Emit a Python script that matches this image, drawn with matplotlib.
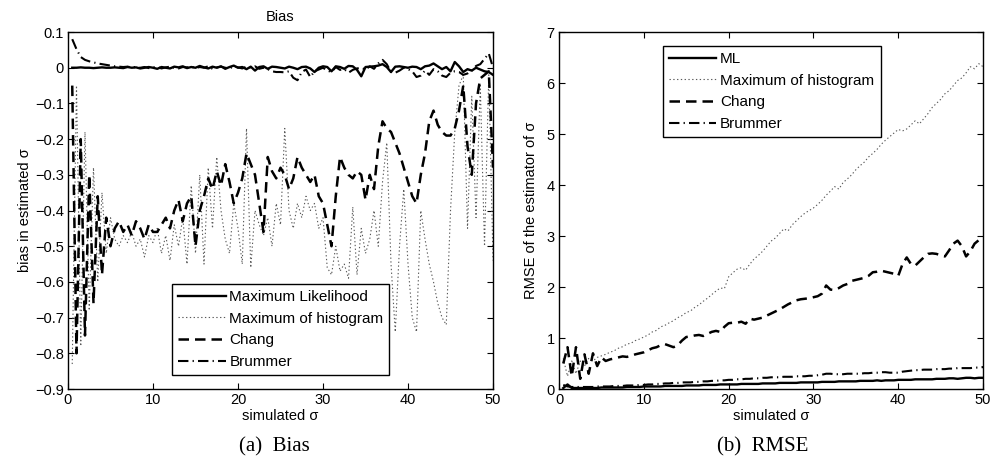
import matplotlib
matplotlib.use("Agg")
import matplotlib.pyplot as plt
import numpy as np

plt.rcParams["font.family"] = ["Liberation Sans", "DejaVu Sans"]

# simulated sigma grid (0.5 ... 50)
sigma = np.arange(1, 101) * 0.5

LABELS_BIAS = ["Maximum Likelihood", "Maximum of histogram", "Chang", "Brummer"]
LABELS_RMSE = ["ML", "Maximum of histogram", "Chang", "Brummer"]

bias_ml = [
    0.000, 0.000, 0.001, 0.000, 0.000, -0.001, 0.000, 0.001, 0.000, 0.000,
    0.001, 0.000, -0.001, 0.002, 0.000, 0.001, -0.002, 0.000, 0.002, 0.000,
    -0.003, 0.002, 0.000, -0.002, 0.003, 0.001, 0.004, -0.001, 0.002, 0.000,
    0.005, 0.001, -0.002, 0.003, 0.000, 0.004, -0.003, 0.002, 0.006, 0.000,
    0.002, -0.004, 0.003, -0.008, 0.002, 0.004, -0.003, 0.003, 0.002, 0.000,
    -0.002, 0.003, 0.000, -0.004, 0.002, 0.003, -0.002, -0.012, 0.000, 0.004,
    0.002, -0.010, 0.004, 0.002, -0.003, 0.005, 0.004, -0.006, -0.024, 0.002,
    0.003, 0.004, 0.006, 0.010, 0.002, -0.012, 0.003, 0.004, 0.002, 0.000,
    0.003, 0.002, -0.004, 0.004, 0.006, 0.012, 0.004, -0.004, 0.002, -0.010,
    0.016, 0.004, -0.012, -0.004, -0.008, 0.000, -0.005, -0.010, -0.012, -0.020,
]
bias_hist = [
    -0.83, -0.05, -0.78, -0.18, -0.68, -0.28, -0.60, -0.35, -0.52, -0.42,
    -0.48, -0.50, -0.47, -0.49, -0.46, -0.50, -0.48, -0.53, -0.47, -0.49,
    -0.45, -0.52, -0.47, -0.54, -0.44, -0.50, -0.42, -0.55, -0.33, -0.52,
    -0.30, -0.55, -0.28, -0.45, -0.25, -0.40, -0.48, -0.52, -0.38, -0.45,
    -0.55, -0.17, -0.56, -0.40, -0.44, -0.47, -0.42, -0.50, -0.38, -0.44,
    -0.17, -0.40, -0.45, -0.38, -0.42, -0.36, -0.40, -0.38, -0.45, -0.42,
    -0.56, -0.58, -0.50, -0.57, -0.55, -0.59, -0.39, -0.58, -0.45, -0.52,
    -0.48, -0.40, -0.50, -0.32, -0.21, -0.55, -0.74, -0.50, -0.34, -0.55,
    -0.70, -0.74, -0.40, -0.48, -0.55, -0.60, -0.66, -0.70, -0.72, -0.40,
    -0.18, -0.05, -0.02, -0.45, -0.08, -0.42, -0.05, -0.50, -0.02, -0.54,
]
bias_chang = [
    -0.05, -0.80, -0.20, -0.75, -0.30, -0.66, -0.36, -0.58, -0.42, -0.50,
    -0.45, -0.43, -0.46, -0.44, -0.47, -0.43, -0.45, -0.48, -0.44, -0.46,
    -0.46, -0.44, -0.42, -0.45, -0.40, -0.37, -0.43, -0.38, -0.36, -0.50,
    -0.40, -0.36, -0.31, -0.34, -0.29, -0.33, -0.27, -0.32, -0.38, -0.35,
    -0.31, -0.24, -0.27, -0.30, -0.38, -0.46, -0.25, -0.29, -0.31, -0.28,
    -0.30, -0.34, -0.31, -0.25, -0.28, -0.30, -0.32, -0.30, -0.36, -0.38,
    -0.44, -0.50, -0.36, -0.25, -0.28, -0.30, -0.31, -0.29, -0.30, -0.37,
    -0.30, -0.34, -0.22, -0.15, -0.17, -0.18, -0.21, -0.24, -0.28, -0.32,
    -0.36, -0.38, -0.30, -0.24, -0.15, -0.12, -0.16, -0.18, -0.19, -0.19,
    -0.17, -0.12, -0.05, -0.22, -0.30, -0.10, -0.03, -0.02, -0.01, -0.28,
]
bias_brummer = [
    0.080, 0.052, 0.030, 0.022, 0.018, 0.015, 0.012, 0.010, 0.008, 0.006,
    0.004, 0.003, 0.002, 0.003, 0.001, 0.002, 0.000, 0.002, -0.001, 0.001,
    0.002, -0.002, 0.001, 0.003, 0.000, -0.002, 0.002, 0.001, 0.003, -0.001,
    0.002, 0.000, 0.004, -0.003, 0.001, 0.003, 0.000, -0.002, 0.004, 0.001,
    -0.002, 0.003, 0.000, 0.004, -0.003, 0.000, -0.004, -0.010, -0.012, -0.012,
    -0.013, -0.010, -0.028, -0.035, -0.012, -0.005, -0.026, -0.010, -0.005, 0.000,
    -0.008, -0.012, 0.002, -0.006, -0.004, -0.014, -0.006, -0.002, 0.000, -0.005,
    0.004, -0.003, 0.012, 0.022, 0.010, -0.012, -0.014, -0.008, 0.000, -0.004,
    -0.010, -0.026, -0.022, -0.008, -0.020, -0.004, -0.010, -0.022, -0.026, -0.014,
    -0.010, -0.012, -0.020, -0.016, -0.008, 0.005, 0.010, 0.025, 0.040, 0.000,
]

rmse_ml = [
    0.02, 0.09, 0.02, 0.02, 0.02, 0.02, 0.02, 0.02, 0.02, 0.03,
    0.03, 0.03, 0.03, 0.03, 0.03, 0.04, 0.04, 0.04, 0.04, 0.05,
    0.05, 0.05, 0.05, 0.05, 0.06, 0.06, 0.06, 0.06, 0.06, 0.07,
    0.07, 0.07, 0.07, 0.08, 0.08, 0.08, 0.08, 0.09, 0.09, 0.09,
    0.09, 0.09, 0.10, 0.10, 0.10, 0.10, 0.10, 0.11, 0.11, 0.11,
    0.11, 0.12, 0.12, 0.12, 0.12, 0.12, 0.13, 0.13, 0.13, 0.13,
    0.13, 0.14, 0.14, 0.14, 0.14, 0.15, 0.15, 0.15, 0.15, 0.15,
    0.16, 0.16, 0.16, 0.16, 0.17, 0.16, 0.17, 0.17, 0.17, 0.18,
    0.18, 0.18, 0.18, 0.19, 0.19, 0.19, 0.19, 0.19, 0.20, 0.20,
    0.20, 0.21, 0.21, 0.20, 0.21, 0.22, 0.22, 0.21, 0.22, 0.22,
]
rmse_hist = [
    0.60, 0.25, 0.55, 0.30, 0.55, 0.45, 0.60, 0.55, 0.62, 0.65,
    0.68, 0.72, 0.75, 0.80, 0.83, 0.88, 0.90, 0.95, 0.98, 1.02,
    1.06, 1.12, 1.15, 1.22, 1.25, 1.30, 1.34, 1.40, 1.44, 1.50,
    1.53, 1.60, 1.65, 1.72, 1.78, 1.85, 1.92, 1.98, 1.97, 2.20,
    2.28, 2.35, 2.38, 2.33, 2.45, 2.55, 2.62, 2.70, 2.80, 2.90,
    2.96, 3.05, 3.14, 3.10, 3.22, 3.30, 3.38, 3.45, 3.50, 3.55,
    3.62, 3.70, 3.80, 3.88, 3.97, 3.92, 4.05, 4.12, 4.20, 4.30,
    4.38, 4.45, 4.55, 4.62, 4.70, 4.80, 4.88, 4.95, 5.02, 5.09,
    5.06, 5.10, 5.18, 5.26, 5.20, 5.30, 5.40, 5.52, 5.60, 5.68,
    5.79, 5.85, 5.95, 6.05, 6.10, 6.20, 6.32, 6.28, 6.38, 6.32,
]
rmse_chang = [
    0.50, 0.82, 0.25, 0.82, 0.20, 0.68, 0.30, 0.70, 0.45, 0.62,
    0.55, 0.58, 0.60, 0.62, 0.64, 0.63, 0.65, 0.68, 0.70, 0.72,
    0.76, 0.80, 0.82, 0.86, 0.88, 0.85, 0.82, 0.86, 0.95, 1.02,
    1.03, 1.05, 1.06, 1.04, 1.08, 1.12, 1.14, 1.12, 1.22, 1.29,
    1.30, 1.30, 1.32, 1.28, 1.38, 1.36, 1.38, 1.40, 1.44, 1.48,
    1.52, 1.56, 1.61, 1.66, 1.70, 1.74, 1.76, 1.77, 1.78, 1.80,
    1.82, 1.87, 2.03, 1.95, 1.94, 1.98, 2.03, 2.06, 2.12, 2.14,
    2.16, 2.18, 2.22, 2.29, 2.30, 2.32, 2.30, 2.28, 2.26, 2.22,
    2.45, 2.58, 2.45, 2.42, 2.50, 2.58, 2.65, 2.66, 2.65, 2.62,
    2.60, 2.72, 2.85, 2.91, 2.80, 2.60, 2.70, 2.85, 2.92, 2.97,
]
rmse_brummer = [
    0.08, 0.05, 0.04, 0.04, 0.04, 0.04, 0.04, 0.04, 0.05, 0.05,
    0.05, 0.05, 0.06, 0.06, 0.06, 0.07, 0.07, 0.07, 0.08, 0.08,
    0.09, 0.09, 0.10, 0.10, 0.11, 0.11, 0.12, 0.12, 0.13, 0.13,
    0.13, 0.14, 0.14, 0.15, 0.15, 0.16, 0.16, 0.17, 0.17, 0.18,
    0.18, 0.19, 0.19, 0.20, 0.20, 0.21, 0.21, 0.22, 0.22, 0.23,
    0.23, 0.23, 0.24, 0.24, 0.24, 0.25, 0.25, 0.25, 0.26, 0.26,
    0.27, 0.28, 0.30, 0.30, 0.29, 0.29, 0.29, 0.30, 0.30, 0.30,
    0.30, 0.31, 0.31, 0.32, 0.32, 0.33, 0.33, 0.32, 0.32, 0.32,
    0.34, 0.35, 0.36, 0.37, 0.37, 0.38, 0.38, 0.38, 0.39, 0.39,
    0.39, 0.40, 0.40, 0.41, 0.41, 0.41, 0.41, 0.42, 0.42, 0.43,
]

# line styles: solid, dotted, dashed, dash-dot (all black, MATLAB look)
STYLES = [
    dict(color="black", lw=1.7, linestyle="-"),
    dict(color="0.35", lw=0.8, dashes=(1.2, 2.2)),
    dict(color="black", lw=1.8, dashes=(4.2, 2.4)),
    dict(color="black", lw=1.5, dashes=(5.0, 2.0, 0.6, 2.0)),
]


def style_axes(ax):
    ax.tick_params(direction="in", top=True, right=True, labelsize=10.5,
                   length=4, width=0.8, pad=3)
    for s in ax.spines.values():
        s.set_linewidth(1.0)


def add_legend(ax, loc, box):
    leg = ax.legend(loc=loc, bbox_to_anchor=box, mode="expand", fontsize=11,
                    handlelength=3.1, handletextpad=0.25, borderaxespad=0,
                    fancybox=False, framealpha=1, edgecolor="black",
                    labelspacing=0.5, borderpad=0.4)
    leg.get_frame().set_linewidth(1.0)
    return leg


fig = plt.figure(figsize=(9.94, 4.65), dpi=100)
ax1 = fig.add_axes([0.0684, 0.1634, 0.4276, 0.7677])
ax2 = fig.add_axes([0.5624, 0.1634, 0.4266, 0.7677])

for ys, lab, st in zip([bias_ml, bias_hist, bias_chang, bias_brummer], LABELS_BIAS, STYLES):
    ax1.plot(sigma, ys, label=lab, **st)
ax1.set_xlim(0, 50)
ax1.set_ylim(-0.9, 0.1)
ax1.set_xticks(np.arange(0, 51, 10))
ax1.set_yticks(np.round(np.arange(-0.9, 0.11, 0.1), 1))
ax1.set_yticklabels(["\u22120.9", "\u22120.8", "\u22120.7", "\u22120.6", "\u22120.5",
                     "\u22120.4", "\u22120.3", "\u22120.2", "\u22120.1", "0", "0.1"])
ax1.set_xlabel("simulated \u03c3", fontsize=10.5, labelpad=1)
ax1.set_ylabel("bias in estimated \u03c3", fontsize=10.5, labelpad=2)
ax1.set_title("Bias", fontsize=10.5, pad=8)
style_axes(ax1)
add_legend(ax1, "lower left", (0.245, 0.039, 0.51, 0.255))

for ys, lab, st in zip([rmse_ml, rmse_hist, rmse_chang, rmse_brummer], LABELS_RMSE, STYLES):
    ax2.plot(sigma, ys, label=lab, **st)
ax2.set_xlim(0, 50)
ax2.set_ylim(0, 7)
ax2.set_xticks(np.arange(0, 51, 10))
ax2.set_yticks(np.arange(0, 8, 1))
ax2.set_xlabel("simulated \u03c3", fontsize=10.5, labelpad=1)
ax2.set_ylabel("RMSE of the estimator of \u03c3", fontsize=10.5, labelpad=6)
style_axes(ax2)
add_legend(ax2, "upper left", (0.245, 0.709, 0.514, 0.252))

fig.text(0.276, 0.04, "(a)  Bias", ha="center", va="center", fontsize=15,
         family="Liberation Serif")
fig.text(0.767, 0.04, "(b)  RMSE", ha="center", va="center", fontsize=15,
         family="Liberation Serif")

fig.savefig("out.png", dpi=100)
